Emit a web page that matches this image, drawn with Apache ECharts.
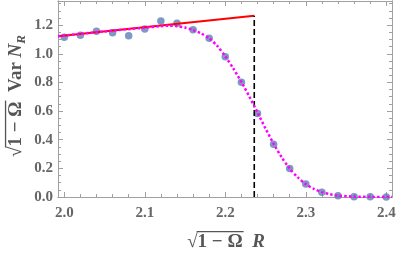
<!DOCTYPE html>
<html><head><meta charset="utf-8">
<script src="https://cdn.jsdelivr.net/npm/echarts@6/dist/echarts.min.js"></script>
<style>html,body{margin:0;padding:0;background:#fff}#c{width:399px;height:257px}</style>
</head><body><div id="c"></div>
<script>
// ---- data ----
const pointX = [2.00,2.02,2.04,2.06,2.08,2.10,2.12,2.14,2.16,2.18,2.20,2.22,2.24,2.26,2.28,2.30,2.32,2.34,2.36,2.38,2.40];
const pointY = [1.115,1.129,1.157,1.147,1.126,1.173,1.229,1.213,1.168,1.108,0.979,0.802,0.583,0.369,0.199,0.091,0.033,0.008,0.002,0.001,0.0];
const curveX = [1.9922,2.02,2.05,2.08,2.10,2.12,2.13,2.14,2.15,2.16,2.17,2.18,2.19,2.20,2.21,2.22,2.23,2.24,2.25,2.26,2.27,2.28,2.29,2.30,2.31,2.32,2.33,2.34,2.36,2.38,2.4071];
const curveY = [1.123,1.139,1.156,1.172,1.182,1.193,1.196,1.193,1.183,1.166,1.142,1.108,1.055,0.982,0.897,0.803,0.700,0.590,0.478,0.372,0.278,0.198,0.137,0.090,0.057,0.034,0.019,0.010,0.003,0.001,0.0];
const redX = [1.9922, 2.236];
const redY = [1.123, 1.265];
const dashX = [2.236, 2.236];
const dashY = [0, 1.265];
const xMajor = [2.0,2.1,2.2,2.3,2.4];
const xMinor = [2.02,2.04,2.06,2.08,2.12,2.14,2.16,2.18,2.22,2.24,2.26,2.28,2.32,2.34,2.36,2.38];
const yMajor = [0,0.2,0.4,0.6,0.8,1.0,1.2];
const yMinor = [0.05,0.1,0.15,0.25,0.3,0.35,0.45,0.5,0.55,0.65,0.7,0.75,0.85,0.9,0.95,1.05,1.1,1.15,1.25,1.3,1.35];
const xLimits = [1.9922, 2.4071];
const yLimits = [0, 1.3685];

const zip = (a, b) => a.map((v, i) => [v, b[i]]);

const FRAME = '#a0a0a0';
const LABEL = '#666666';
const TITLE = '#555555';
const FONT = '"Liberation Serif", "DejaVu Serif", serif';

function xAx(pos, vals, len, labels) {
  return {
    type: 'value', position: pos, min: xLimits[0], max: xLimits[1],
    axisLine: {show: true, onZero: false, lineStyle: {color: FRAME, width: 1}},
    axisTick: {show: true, inside: true, length: len, customValues: vals, lineStyle: {color: FRAME, width: 1}},
    axisLabel: labels ? {show: true, customValues: vals, margin: 9, color: LABEL, fontFamily: FONT, fontWeight: 'bold', fontSize: 15, formatter: v => v.toFixed(1)} : {show: false},
    splitLine: {show: false}
  };
}
function yAx(pos, vals, len, labels) {
  return {
    type: 'value', position: pos, min: yLimits[0], max: yLimits[1],
    axisLine: {show: true, onZero: false, lineStyle: {color: FRAME, width: 1}},
    axisTick: {show: true, inside: true, length: len, customValues: vals, lineStyle: {color: FRAME, width: 1}},
    axisLabel: labels ? {show: true, customValues: vals, margin: 5, color: LABEL, fontFamily: FONT, fontWeight: 'bold', fontSize: 15, formatter: v => v.toFixed(1)} : {show: false},
    splitLine: {show: false}
  };
}

// title builder (text measured so the overline covers the radicand)
const mctx = document.createElement('canvas').getContext('2d');
function measure(t, f) { mctx.font = f; return mctx.measureText(t).width; }
function buildTitle(parts, fs) {
  let x = 0; const kids = []; const overs = [];
  parts.forEach(p => {
    const size = p.sub ? Math.round(fs * 0.68) : fs;
    const font = (p.italic ? 'italic ' : '') + 'bold ' + size + 'px ' + FONT;
    const wd = measure(p.text, font);
    kids.push({type: 'text', x: x, y: p.sub ? fs * 0.28 : 0,
      style: {text: p.text, font: font, fill: TITLE, align: 'left', verticalAlign: 'middle', textAlign: 'left', textVerticalAlign: 'middle'}});
    if (p.over) overs.push([x, x + wd]);
    x += wd;
  });
  kids.forEach(k => k.x -= x / 2);
  overs.forEach(o => kids.push({type: 'line', shape: {x1: o[0] - x / 2 - 1, y1: -fs * 0.55, x2: o[1] - x / 2 + 1, y2: -fs * 0.55},
    style: {stroke: TITLE, lineWidth: 1.3}}));
  return kids;
}
const xTitleParts = [{text: '√'}, {text: '1 − Ω', over: true}, {text: '  '}, {text: 'R', italic: true}];
const yTitleParts = [{text: '√'}, {text: '1 − Ω', over: true}, {text: '  Var '}, {text: 'N', italic: true}, {text: 'R', italic: true, sub: true}];

const chart = echarts.init(document.getElementById('c'), null, {renderer: 'canvas'});
chart.setOption({
  animation: false,
  backgroundColor: '#ffffff',
  grid: {left: 58, right: 7, top: 1, bottom: 60, containLabel: false},
  xAxis: [xAx('bottom', xMajor, 5, true), xAx('bottom', xMinor, 3, false), xAx('top', xMajor, 5, false), xAx('top', xMinor, 3, false)],
  yAxis: [yAx('left', yMajor, 5, true), yAx('left', yMinor, 3, false), yAx('right', yMajor, 5, false), yAx('right', yMinor, 3, false)],
  graphic: [
    {type: 'group', x: 226, y: 242, children: buildTitle(xTitleParts, 19)},
    {type: 'group', x: 16, y: 96, rotation: Math.PI / 2, children: buildTitle(yTitleParts, 19)}
  ],
  series: [
    {type: 'scatter', data: zip(pointX, pointY), symbolSize: 7.5, itemStyle: {color: '#5E81B5'}, z: 2},
    {type: 'line', data: zip(redX, redY), symbol: 'none', lineStyle: {color: '#ff0000', width: 2}, z: 3},
    {type: 'line', data: zip(dashX, dashY), symbol: 'none', lineStyle: {color: '#000000', width: 1.6, type: [6, 3]}, z: 3},
    {type: 'line', data: zip(curveX, curveY), symbol: 'none', smooth: 0.25, lineStyle: {color: '#ff00ff', width: 2.5, type: [2.5, 2.2]}, z: 4}
  ]
});
</script></body></html>
